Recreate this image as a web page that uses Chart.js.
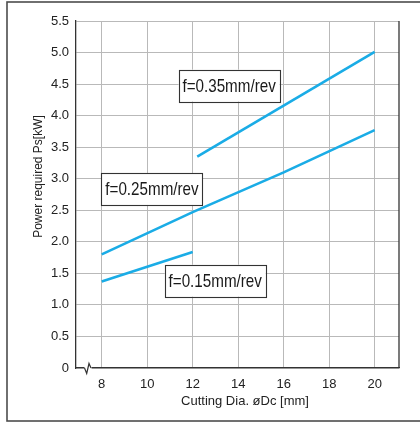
<!DOCTYPE html>
<html>
<head>
<title>Power required vs Cutting Dia.</title>
<script src="https://cdn.jsdelivr.net/npm/chart.js@4.4.1/dist/chart.umd.min.js"></script>
<style>
  body { margin: 0; background: #fff; }
</style>
</head>
<body>
<canvas id="powerChart" width="420" height="423"></canvas>
<script>
// values
const xTicks = [8, 10, 12, 14, 16, 18, 20];

const f35x = [12.2, 20];
const f35y = [3.35, 5.01];

const f25x = [8, 12, 16, 20];
const f25y = [1.80, 2.47, 3.10, 3.77];

const f15x = [8, 12];
const f15y = [1.37, 1.84];

const noteText = ['f=0.35mm/rev', 'f=0.25mm/rev', 'f=0.15mm/rev'];
const noteX = [13.6, 10.21, 12.99];
const noteY = [4.476, 2.838, 1.384];

const xTitle = 'Cutting Dia. \u00f8Dc [mm]';
const yTitle = 'Power required Ps[kW]';

const lineBlue = '#1aace6';
const gridGray = '#b9b9b9';
const axisDark = '#333';

function pts(xs, ys) {
  return xs.map((x, i) => ({ x: x, y: ys[i] }));
}

function mkSet(label, xs, ys) {
  return {
    label: label,
    data: pts(xs, ys),
    borderColor: lineBlue,
    borderWidth: 2.6,
    pointRadius: 0,
    fill: false,
    tension: 0
  };
}

const extras = {
  id: 'extras',
  afterDraw(chart) {
    const ctx = chart.ctx;
    const a = chart.chartArea;
    const xs = chart.scales.x, ys = chart.scales.y;
    ctx.save();

    // outer frame
    ctx.strokeStyle = '#4d4d4d';
    ctx.lineWidth = 1.6;
    ctx.strokeRect(7, 2, 480, 419);

    // right edge of plot
    ctx.strokeStyle = axisDark;
    ctx.lineWidth = 1.3;
    ctx.beginPath();
    ctx.moveTo(a.right, a.top);
    ctx.lineTo(a.right, a.bottom);
    ctx.stroke();

    // axis break
    ctx.fillStyle = '#fff';
    ctx.fillRect(84.5, a.bottom - 2, 7, 4);
    ctx.strokeStyle = axisDark;
    ctx.lineWidth = 1.2;
    ctx.beginPath();
    ctx.moveTo(84.5, a.bottom);
    ctx.lineTo(86.7, a.bottom + 5.5);
    ctx.lineTo(89, a.bottom - 4.5);
    ctx.lineTo(91, a.bottom);
    ctx.stroke();

    // labelled boxes
    noteText.forEach((t, i) => {
      const cx = xs.getPixelForValue(noteX[i]);
      const cy = ys.getPixelForValue(noteY[i]);
      const w = 101, h = 32;
      ctx.fillStyle = '#fff';
      ctx.fillRect(cx - w / 2, cy - h / 2, w, h);
      ctx.strokeStyle = '#333';
      ctx.lineWidth = 1.1;
      ctx.strokeRect(Math.round(cx - w / 2) + 0.5, Math.round(cy - h / 2) + 0.5, w, h);
      ctx.save();
      ctx.translate(cx, cy + 1);
      ctx.scale(0.8, 1);
      ctx.fillStyle = '#1a1a1a';
      ctx.font = '19px "Liberation Sans", Arial, sans-serif';
      ctx.textAlign = 'center';
      ctx.textBaseline = 'middle';
      ctx.fillText(t, 0, 0);
      ctx.restore();
    });

    // axis titles
    ctx.fillStyle = '#222';
    ctx.font = '13px "Liberation Sans", Arial, sans-serif';
    ctx.textAlign = 'center';
    ctx.textBaseline = 'middle';
    ctx.fillText(xTitle, 245, 401);

    ctx.save();
    ctx.translate(39, 176.5);
    ctx.rotate(-Math.PI / 2);
    ctx.font = '12px "Liberation Sans", Arial, sans-serif';
    ctx.fillText(yTitle, 0, 0);
    ctx.restore();

    ctx.restore();
  }
};

new Chart(document.getElementById('powerChart'), {
  type: 'line',
  data: {
    datasets: [
      mkSet('f=0.35mm/rev', f35x, f35y),
      mkSet('f=0.25mm/rev', f25x, f25y),
      mkSet('f=0.15mm/rev', f15x, f15y)
    ]
  },
  options: {
    responsive: false,
    animation: false,
    devicePixelRatio: 1,
    layout: { padding: { left: 0, top: 21, right: 21, bottom: 0 } },
    plugins: {
      legend: { display: false },
      tooltip: { enabled: false }
    },
    scales: {
      x: {
        type: 'linear',
        min: 6.87,
        max: 21.07,
        afterBuildTicks: s => { s.ticks = xTicks.map(v => ({ value: v })); },
        afterFit: s => { s.height = 55; },
        grid: { color: gridGray, lineWidth: 1, drawTicks: false },
        border: { color: axisDark, width: 1.3 },
        ticks: {
          padding: 9,
          color: '#222',
          font: { family: '"Liberation Sans", Arial, sans-serif', size: 13 }
        }
      },
      y: {
        min: 0,
        max: 5.5,
        afterFit: s => { s.width = 76; },
        grid: { color: gridGray, lineWidth: 1, drawTicks: false },
        border: { color: axisDark, width: 1.3 },
        ticks: {
          stepSize: 0.5,
          padding: 7,
          color: '#222',
          font: { family: '"Liberation Sans", Arial, sans-serif', size: 13 },
          callback: v => v === 0 ? '0' : v.toFixed(1)
        }
      }
    }
  },
  plugins: [extras]
});
</script>
</body>
</html>
